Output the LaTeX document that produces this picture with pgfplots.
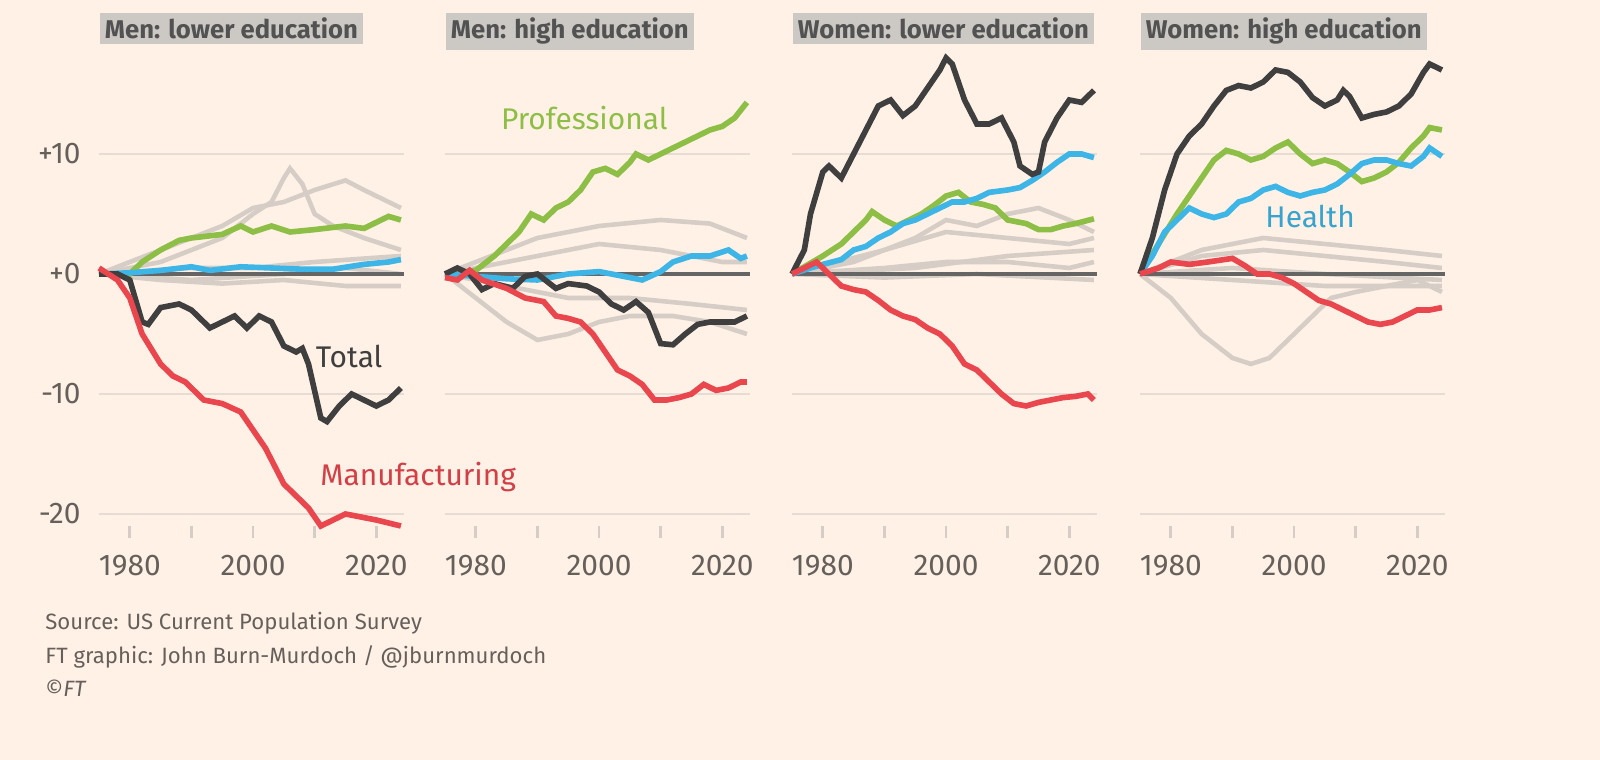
\documentclass[border=0pt]{standalone}
\usepackage{pgfplots}
\pgfplotsset{compat=1.18}
\usepackage{fontspec}
\setmainfont{Fira Sans}
\definecolor{bg}{HTML}{FFF1E5}
\definecolor{dk}{HTML}{3F3F3F}
\definecolor{rd}{HTML}{E9464E}
\definecolor{gn}{HTML}{8DBE45}
\definecolor{bl}{HTML}{3DB5E6}
\definecolor{lg}{HTML}{D6CDC6}
\definecolor{gr}{HTML}{E6DCD3}
\definecolor{tx}{HTML}{66605C}
\definecolor{tb}{HTML}{CCC8C4}
\pgfplotsset{panel/.style={scale only axis, width=3.05cm, height=4.86cm,
  xmin=1975, xmax=2024.5, ymin=-21.5, ymax=19, clip=false,
  axis line style={draw=none}, xtick pos=bottom, ytick pos=left,
  xtick={1980,1990,2000,2010,2020}, xticklabels={1980,,2000,,2020},
  ytick={-20,-10,0,10}, yticklabels={}, ymajorgrids, grid style={gr, line width=0.8pt},
  major tick length=0.12cm, tick align=center,
  x tick style={lg, line width=0.8pt}, y tick style={draw=none},
  tick label style={font=\fontsize{8.5}{10}\selectfont, text=tx},
  xticklabel style={yshift=-0.05cm},
  /pgf/number format/assume math mode=true,
  /pgf/number format/1000 sep={}},
  gl/.style={lg, line width=1.3pt}, hl/.style={line width=1.6pt}}
\newcommand\zl{\draw[dk!80, line width=0.9pt] (axis cs:1975,0) -- (axis cs:2024.5,0);}
\begin{document}
\begin{tikzpicture}
\fill[bg] (0,0) rectangle (16,7.6);
\foreach \x/\t in {0.99/Men: lower education,4.45/Men: high education,7.92/Women: lower education,11.40/Women: high education}
  \node[anchor=north west, fill=tb, inner sep=1.5pt, font=\fontsize{7.3}{8.5}\selectfont\bfseries, text=dk!90] at (\x,7.48) {\t};
\node[anchor=north west, font=\fontsize{6.3}{9.5}\selectfont, text=tx, align=left] at (0.33,1.6) {Source: US Current Population Survey\\FT graphic: John Burn-Murdoch / @jburnmurdoch\\\textcopyright\textit{FT}};
% Panel 1
\begin{axis}[panel, at={(0.99cm,2.28cm)}, yticklabels={-20,-10,+0,+10}]
\addplot[gl] coordinates {(1975,0)(1985,1)(1990,2)(1995,3)(2000,5)(2003,6)(2005,8)(2006,8.8)(2008,7.5)(2010,5)(2013,4)(2018,3)(2024,2)};
\addplot[gl] coordinates {(1975,0)(1985,2)(1990,3)(1995,4)(2000,5.5)(2005,6)(2010,7)(2015,7.8)(2018,7)(2022,6)(2024,5.5)};
\addplot[gl] coordinates {(1975,0)(1985,-0.5)(1995,-0.8)(2005,-0.5)(2015,-1)(2024,-1)};
\addplot[gl] coordinates {(1975,0)(1990,0.5)(2000,0.5)(2010,1)(2024,1.5)};
\addplot[gl] coordinates {(1975,0)(1990,-0.5)(2005,0)(2015,0.5)(2024,0)};
\zl
\addplot[hl,gn] coordinates {(1975,0)(1980,0)(1982,1)(1985,2)(1988,2.8)(1990,3)(1995,3.3)(1998,4)(2000,3.5)(2003,4)(2006,3.5)(2010,3.7)(2015,4)(2018,3.8)(2022,4.8)(2024,4.5)};
\addplot[hl,bl] coordinates {(1975,0)(1980,0.1)(1985,0.3)(1990,0.6)(1993,0.3)(1998,0.6)(2003,0.5)(2008,0.4)(2013,0.4)(2018,0.8)(2022,1)(2024,1.2)};
\addplot[hl,dk] coordinates {(1975,0)(1978,0)(1980,-0.5)(1982,-4)(1983,-4.2)(1985,-2.8)(1988,-2.5)(1990,-3)(1993,-4.5)(1995,-4)(1997,-3.5)(1999,-4.5)(2001,-3.5)(2003,-4)(2005,-6)(2007,-6.5)(2008,-6.2)(2009,-7.5)(2011,-12)(2012,-12.3)(2014,-11)(2016,-10)(2018,-10.5)(2020,-11)(2022,-10.5)(2024,-9.5)};
\addplot[hl,rd] coordinates {(1975,0.5)(1978,-0.5)(1980,-2)(1982,-5)(1985,-7.5)(1987,-8.5)(1989,-9)(1992,-10.5)(1995,-10.8)(1998,-11.5)(2000,-13)(2002,-14.5)(2005,-17.5)(2007,-18.5)(2009,-19.5)(2011,-21)(2013,-20.5)(2015,-20)(2018,-20.3)(2020,-20.5)(2024,-21)};
\node[text=dk, font=\fontsize{8.5}{10}\selectfont] at (axis cs:2015.6,-6.9) {Total};
\node[text=rd!90!black, font=\fontsize{8.5}{10}\selectfont] at (axis cs:2026.8,-16.9) {Manufacturing};
\end{axis}
% Panel 2
\begin{axis}[panel, at={(4.45cm,2.28cm)}]
\addplot[gl] coordinates {(1975,0)(1985,2)(1990,3)(1995,3.5)(2000,4)(2010,4.5)(2018,4.2)(2024,3)};
\addplot[gl] coordinates {(1975,0)(1980,-2)(1985,-4)(1990,-5.5)(1995,-5)(2000,-4)(2005,-3.5)(2012,-3.5)(2018,-4)(2024,-5)};
\addplot[gl] coordinates {(1975,0)(1985,-1)(1995,-2)(2005,-2)(2015,-2.5)(2024,-3)};
\addplot[gl] coordinates {(1975,0)(1990,1.5)(2000,2.5)(2010,2)(2020,1)(2024,1)};
\zl
\addplot[hl,gn] coordinates {(1975,0)(1980,0.3)(1983,1.5)(1985,2.5)(1987,3.5)(1989,5)(1991,4.5)(1993,5.5)(1995,6)(1997,7)(1999,8.5)(2001,8.8)(2003,8.3)(2005,9.3)(2006,10)(2008,9.5)(2010,10)(2012,10.5)(2014,11)(2016,11.5)(2018,12)(2020,12.3)(2022,13)(2024,14.3)};
\addplot[hl,bl] coordinates {(1975,0)(1980,-0.2)(1985,-0.4)(1990,-0.5)(1995,0)(2000,0.2)(2005,-0.3)(2007,-0.5)(2010,0.2)(2012,1)(2015,1.5)(2018,1.5)(2021,2)(2023,1.3)(2024,1.5)};
\addplot[hl,dk] coordinates {(1975,0)(1977,0.5)(1979,0)(1981,-1.3)(1983,-0.8)(1986,-1.2)(1988,-0.2)(1990,0)(1993,-1.2)(1995,-0.8)(1998,-1)(2000,-1.5)(2002,-2.5)(2004,-3)(2006,-2.3)(2008,-3.2)(2010,-5.8)(2012,-5.9)(2014,-5)(2016,-4.2)(2018,-4)(2020,-4)(2022,-4)(2024,-3.5)};
\addplot[hl,rd] coordinates {(1975,-0.3)(1977,-0.5)(1979,0.3)(1981,-0.5)(1985,-1.2)(1988,-2)(1991,-2.3)(1993,-3.5)(1995,-3.7)(1997,-4)(1999,-5)(2001,-6.5)(2003,-8)(2005,-8.5)(2007,-9.2)(2009,-10.5)(2011,-10.5)(2013,-10.3)(2015,-10)(2017,-9.2)(2019,-9.7)(2021,-9.5)(2023,-9)(2024,-9)};
\node[text=gn, font=\fontsize{8.5}{10}\selectfont] at (axis cs:1997.6,13.0) {Professional};
\end{axis}
% Panel 3
\begin{axis}[panel, at={(7.92cm,2.28cm)}]
\addplot[gl] coordinates {(1975,0)(1985,1)(1995,3)(2000,4.5)(2005,4)(2010,5)(2015,5.5)(2020,4.5)(2024,3.5)};
\addplot[gl] coordinates {(1975,0)(1990,2)(2000,3.5)(2010,3)(2020,2.5)(2024,3)};
\addplot[gl] coordinates {(1975,0)(1990,0.5)(2000,1)(2010,1)(2020,0.5)(2024,1)};
\addplot[gl] coordinates {(1975,0)(1990,-0.3)(2005,0)(2024,-0.5)};
\addplot[gl] coordinates {(1975,0)(1995,0.5)(2010,1.5)(2024,2)};
\zl
\addplot[hl,gn] coordinates {(1975,0)(1980,1.5)(1983,2.5)(1985,3.5)(1987,4.5)(1988,5.2)(1990,4.5)(1992,4)(1994,4.5)(1996,5)(1998,5.7)(2000,6.5)(2002,6.8)(2004,6)(2006,5.8)(2008,5.5)(2010,4.5)(2013,4.2)(2015,3.7)(2017,3.7)(2019,4)(2021,4.2)(2024,4.6)};
\addplot[hl,bl] coordinates {(1975,0)(1978,0.5)(1980,0.8)(1983,1.2)(1985,2)(1987,2.3)(1989,3)(1991,3.5)(1993,4.2)(1995,4.5)(1997,5)(1999,5.5)(2001,6)(2003,6)(2005,6.3)(2007,6.8)(2010,7)(2012,7.2)(2014,7.8)(2016,8.5)(2018,9.3)(2020,10)(2022,10)(2024,9.7)};
\addplot[hl,dk] coordinates {(1975,0)(1977,2)(1978,5)(1980,8.5)(1981,9)(1983,8)(1985,10)(1987,12)(1989,14)(1991,14.5)(1993,13.2)(1995,14)(1997,15.5)(1999,17)(2000,18)(2001,17.5)(2003,14.5)(2005,12.5)(2007,12.5)(2009,13)(2011,11)(2012,9)(2014,8.3)(2015,8.5)(2016,11)(2018,13)(2020,14.5)(2022,14.3)(2024,15.3)};
\addplot[hl,rd] coordinates {(1975,0)(1977,0.5)(1979,1)(1981,0)(1983,-1)(1985,-1.3)(1987,-1.5)(1989,-2.2)(1991,-3)(1993,-3.5)(1995,-3.8)(1997,-4.5)(1999,-5)(2001,-6)(2003,-7.5)(2005,-8)(2007,-9)(2009,-10)(2011,-10.8)(2013,-11)(2015,-10.7)(2017,-10.5)(2019,-10.3)(2021,-10.2)(2023,-10)(2024,-10.5)};
\end{axis}
% Panel 4
\begin{axis}[panel, at={(11.40cm,2.28cm)}]
\addplot[gl] coordinates {(1975,0)(1980,-2)(1985,-5)(1990,-7)(1993,-7.5)(1996,-7)(2000,-5)(2003,-3.5)(2006,-2)(2010,-1.5)(2015,-1)(2020,-0.5)(2024,-1.5)};
\addplot[gl] coordinates {(1975,0)(1985,2)(1995,3)(2005,2.5)(2015,2)(2024,1.5)};
\addplot[gl] coordinates {(1975,0)(1985,1.5)(1995,2)(2005,1.5)(2015,1)(2024,0.5)};
\addplot[gl] coordinates {(1975,0)(1990,0.5)(2005,0)(2024,-0.5)};
\addplot[gl] coordinates {(1975,0)(1990,-0.5)(2005,-1)(2024,-1)};
\zl
\addplot[hl,gn] coordinates {(1975,0)(1978,2.5)(1981,5)(1983,6.5)(1985,8)(1987,9.5)(1989,10.3)(1991,10)(1993,9.5)(1995,9.8)(1997,10.5)(1999,11)(2001,10)(2003,9.2)(2005,9.5)(2007,9.2)(2009,8.5)(2011,7.7)(2013,8)(2015,8.5)(2017,9.3)(2019,10.5)(2021,11.5)(2022,12.2)(2024,12)};
\addplot[hl,bl] coordinates {(1975,0)(1977,1.5)(1979,3.5)(1981,4.5)(1983,5.5)(1985,5)(1987,4.7)(1989,5)(1991,6)(1993,6.3)(1995,7)(1997,7.3)(1999,6.8)(2001,6.5)(2003,6.8)(2005,7)(2007,7.5)(2009,8.3)(2011,9.2)(2013,9.5)(2015,9.5)(2017,9.2)(2019,9)(2021,9.8)(2022,10.5)(2024,9.8)};
\addplot[hl,dk] coordinates {(1975,0)(1977,3)(1979,7)(1981,10)(1983,11.5)(1985,12.5)(1987,14)(1989,15.3)(1991,15.7)(1993,15.5)(1995,16)(1997,17)(1999,16.8)(2001,16)(2003,14.7)(2005,14)(2007,14.5)(2008,15.3)(2009,14.8)(2011,13)(2013,13.3)(2015,13.5)(2017,14)(2019,15)(2021,16.8)(2022,17.5)(2024,17)};
\addplot[hl,rd] coordinates {(1975,0)(1978,0.5)(1980,1)(1983,0.8)(1986,1)(1990,1.3)(1992,0.7)(1994,0)(1996,0)(1998,-0.3)(2000,-0.8)(2002,-1.5)(2004,-2.2)(2006,-2.5)(2008,-3)(2010,-3.5)(2012,-4)(2014,-4.2)(2016,-4)(2018,-3.5)(2020,-3)(2022,-3)(2024,-2.8)};
\node[text=bl!90!black, font=\fontsize{8.5}{10}\selectfont] at (axis cs:2002.6,4.8) {Health};
\end{axis}
\end{tikzpicture}
\end{document}
